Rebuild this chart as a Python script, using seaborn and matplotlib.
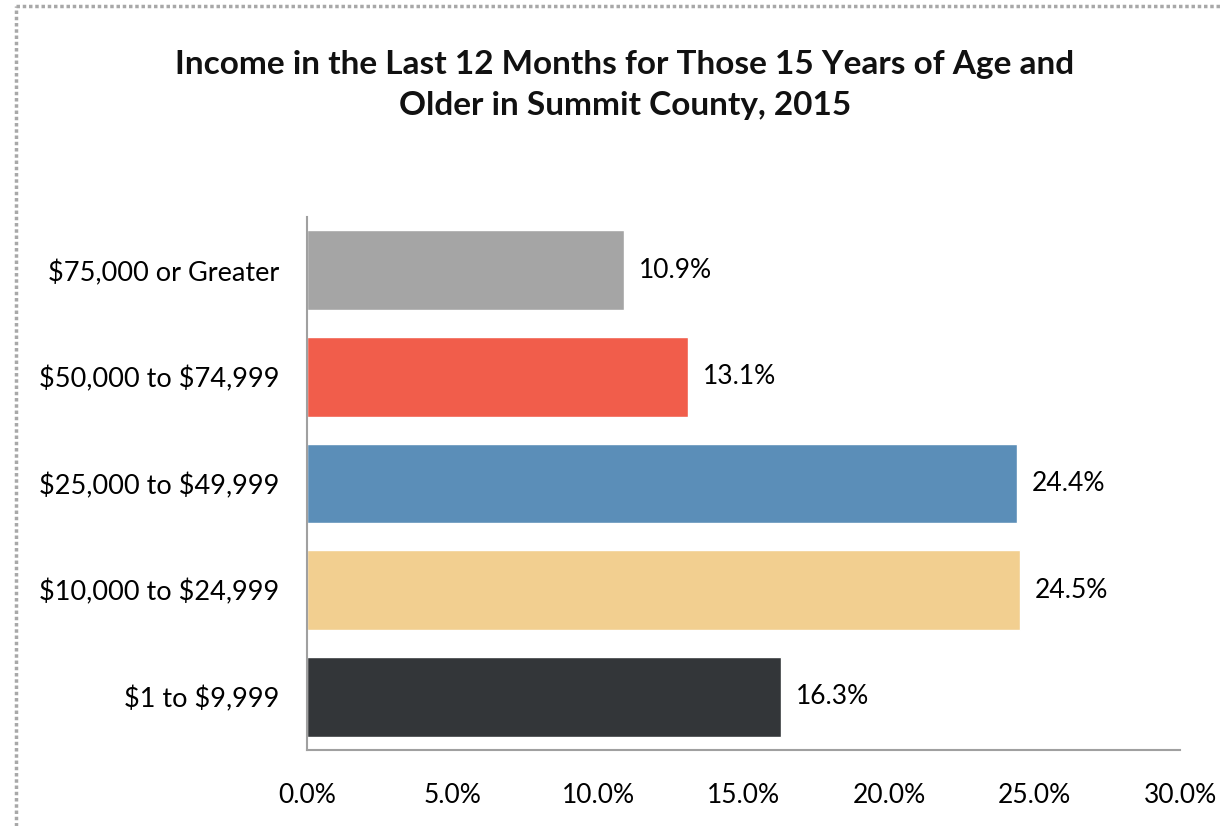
import matplotlib
matplotlib.use("Agg")
import matplotlib.pyplot as plt
import matplotlib.lines as mlines
import numpy as np
import pandas as pd
import seaborn as sns

# data
categories = ["$75,000 or Greater", "$50,000 to $74,999", "$25,000 to $49,999",
              "$10,000 to $24,999", "$1 to $9,999"]
percent = [10.9, 13.1, 24.4, 24.5, 16.3]
bar_colors = ["#A5A5A5", "#F15D4B", "#5B8EB8", "#F2CF90", "#333639"]
x_ticks = [0, 5, 10, 15, 20, 25, 30]

sns.set_theme(style="white")
plt.rcParams['font.family'] = ['Lato', 'DejaVu Sans']
plt.rcParams['text.parse_math'] = False

df = pd.DataFrame({"income": categories, "pct": percent})

fig = plt.figure(figsize=(12.22, 8.26), dpi=100)
ax = fig.add_axes([307 / 1222, 1 - 750 / 826, (1180 - 307) / 1222, (750 - 217) / 826])

sns.barplot(data=df, x="pct", y="income", hue="income", palette=bar_colors,
            legend=False, width=0.75, saturation=1, ax=ax)

for i, v in enumerate(percent):
    ax.text(v + 0.5, i, f"{v:.1f}%", va="center", ha="left", fontsize=19, color="black")

ax.set_xlim(0, 30)
ax.set_ylim(4.5, -0.5)
ax.set_xticks(x_ticks)
ax.set_xticklabels([f"{t:.1f}%" for t in x_ticks], fontsize=19)
ax.tick_params(axis="x", pad=24, length=0, labelcolor="black")
ax.tick_params(axis="y", pad=20, length=0, labelsize=19.5, labelcolor="black")
ax.set_xlabel("")
ax.set_ylabel("")
for s in ["top", "right"]:
    ax.spines[s].set_visible(False)
for s in ["left", "bottom"]:
    ax.spines[s].set_color("#A0A0A0")
    ax.spines[s].set_linewidth(1.5)

fig.text(625 / 1222, 1 - 85 / 826,
         "Income in the Last 12 Months for Those 15 Years of Age and\nOlder in Summit County, 2015",
         ha="center", va="center", fontsize=24, fontweight="bold", linespacing=1.5,
         color="#111111")

# decorative dotted frame on top and left edges
fig.add_artist(mlines.Line2D([16 / 1222, 1], [1 - 6 / 826, 1 - 6 / 826], color="#A8A8A8",
                             lw=2.5, ls=(0, (1, 0.8)), transform=fig.transFigure))
fig.add_artist(mlines.Line2D([16 / 1222, 16 / 1222], [0, 1 - 6 / 826], color="#A8A8A8",
                             lw=2.5, ls=(0, (1, 0.8)), transform=fig.transFigure))

fig.savefig("out.png", dpi=100)
